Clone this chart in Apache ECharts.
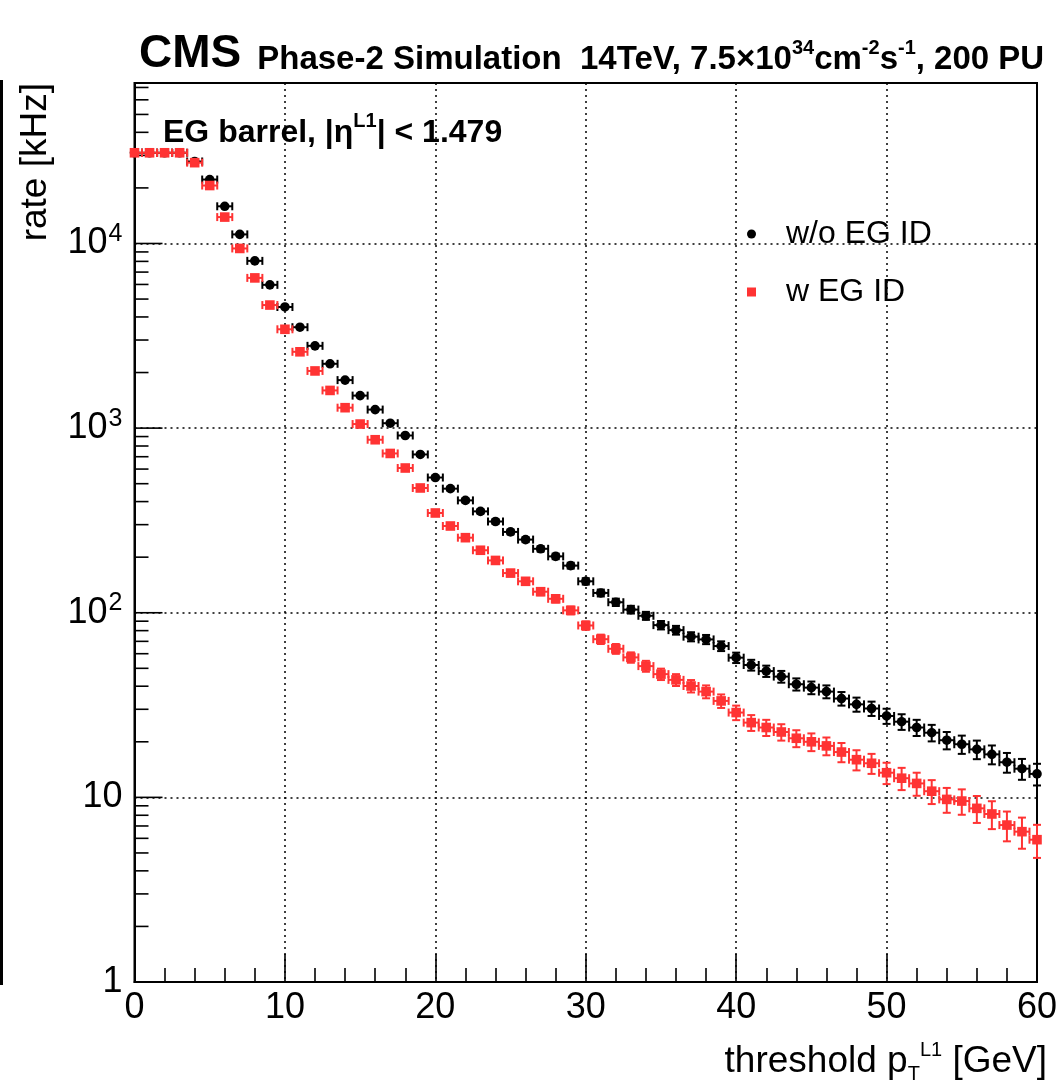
<!DOCTYPE html>
<html><head><meta charset="utf-8">
<script src="https://cdn.jsdelivr.net/npm/echarts@6/dist/echarts.min.js"></script>
<style>html,body{margin:0;padding:0;background:#fff}#c{width:1061px;height:1088px}</style>
</head><body><div id="c"></div>
<script>
// ---- data ----
const thresholds = [0,1,2,3,4,5,6,7,8,9,10,11,12,13,14,15,16,17,18,19,20,21,22,23,24,25,26,27,28,29,30,
  31,32,33,34,35,36,37,38,39,40,41,42,43,44,45,46,47,48,49,50,51,52,53,54,55,56,57,58,59,60];
const rateNoID = [31000,31000,31000,31000,27800,22200,15900,11200,8050,5970,4530,3520,2790,2230,1820,1500,1260,1063,912,720,
  540,470,406,354,312,274,249,222,202,180,148,128,114,104,96.3,85.7,80.5,74.2,71.7,66.0,
  57.1,52.1,48.3,45.1,41.0,39.3,37.4,34.3,31.9,30.3,27.6,25.7,23.9,22.4,20.4,19.4,18.2,17.1,15.5,14.3,13.4];
const errNoID = [86,86,86,86,82,73,62,52,44,38,33,29,26,23,21,19,17,16,15,13,
  11,10.6,9.9,9.2,8.7,8.1,7.7,7.3,7.0,6.6,5.9,5.5,5.2,5.0,4.8,4.5,4.4,4.2,4.1,4.0,
  3.7,3.5,3.4,3.3,3.1,3.1,3.0,2.9,2.8,2.7,2.6,2.5,2.4,2.3,2.2,2.2,2.1,2.0,1.9,1.85,1.8];
const rateID = [31000,31000,31000,31000,27400,20600,13900,9400,6510,4640,3430,2590,2040,1600,1290,1052,865,729,608,474,
  347,295,255,218,192,164,148,130,119,103,85.3,71.9,63.8,57.3,51.4,46.5,43.3,40.1,37.4,33.3,
  28.8,25.4,23.9,22.6,20.9,20.0,19.0,17.6,16.0,15.3,13.6,12.7,11.9,10.8,9.75,9.55,8.72,8.13,7.08,6.52,5.90];
const errID = [86,86,86,86,81,70,58,48,40,33,29,25,22,20,18,16,14,13,12,10.7,
  9.1,8.4,7.8,7.2,6.8,6.3,5.9,5.6,5.3,5.0,4.5,4.2,3.9,3.7,3.5,3.3,3.2,3.1,3.0,2.8,
  2.6,2.5,2.4,2.3,2.2,2.2,2.1,2.1,2.0,1.9,1.8,1.75,1.7,1.6,1.5,1.5,1.45,1.4,1.3,1.25,1.2];
const seriesNames = ['w/o EG ID', 'w EG ID'];
const binHalfWidth = 0.5;
const xMin = 0, xMax = 60, xInterval = 10;
const yMin = 1, yMax = 74000;
const yMajorTicks = [1, 10, 100, 1000, 10000];
const yMinorTicks = [2,3,4,5,6,7,8,9,20,30,40,50,60,70,80,90,200,300,400,500,600,700,800,900,
  2000,3000,4000,5000,6000,7000,8000,9000,20000,30000,40000,50000,60000,70000];

const FONT = 'Liberation Sans, Arial, Helvetica, sans-serif';
const RED = '#ff3333';

function pointRender(shape, color) {
  return function (params, api) {
    const x = api.value(0), y = api.value(1), e = api.value(2);
    const xl = Math.max(x - binHalfWidth, xMin), xr = Math.min(x + binHalfWidth, xMax);
    const pC = api.coord([x, y]);
    const pL = api.coord([xl, y]), pR = api.coord([xr, y]);
    const pT = api.coord([x, y + e]), pB = api.coord([x, Math.max(y - e, yMin)]);
    const st = {stroke: color, lineWidth: 2};
    const cap = 4;
    const ch = [
      {type: 'line', shape: {x1: pL[0], y1: pL[1], x2: pR[0], y2: pR[1]}, style: st},
      {type: 'line', shape: {x1: pT[0], y1: pT[1], x2: pB[0], y2: pB[1]}, style: st},
      {type: 'line', shape: {x1: pT[0] - cap, y1: pT[1], x2: pT[0] + cap, y2: pT[1]}, style: st},
      {type: 'line', shape: {x1: pB[0] - cap, y1: pB[1], x2: pB[0] + cap, y2: pB[1]}, style: st}
    ];
    if (x - binHalfWidth >= xMin) ch.push({type: 'line', shape: {x1: pL[0], y1: pL[1] - cap, x2: pL[0], y2: pL[1] + cap}, style: st});
    if (x + binHalfWidth <= xMax) ch.push({type: 'line', shape: {x1: pR[0], y1: pR[1] - cap, x2: pR[0], y2: pR[1] + cap}, style: st});
    if (shape === 'circle') ch.push({type: 'circle', shape: {cx: pC[0], cy: pC[1], r: 4.8}, style: {fill: color}});
    else ch.push({type: 'rect', shape: {x: pC[0] - 4.8, y: pC[1] - 4.8, width: 9.6, height: 9.6}, style: {fill: color}});
    return {type: 'group', children: ch};
  };
}
function tickRender(len) {
  return function (params, api) {
    const p = api.coord([api.value(0), api.value(1)]);
    return {type: 'line', shape: {x1: p[0], y1: p[1], x2: p[0] + len, y2: p[1]}, style: {stroke: '#000', lineWidth: 1.6}};
  };
}

const chart = echarts.init(document.getElementById('c'), null, {renderer: 'canvas'});
chart.setOption({
  backgroundColor: '#fff',
  animation: false,
  textStyle: {fontFamily: FONT},
  title: [
    {
      left: 134, top: 26,
      text: '{cms|CMS}{b|Phase-2 Simulation  14TeV, 7.5×10}{sup|34}{b|cm}{sup|-2}{b|s}{sup|-1}{b|, 200 PU}',
      textStyle: {
        fontFamily: FONT,
        rich: {
          cms: {fontSize: 46, fontWeight: 'bold', color: '#000', fontFamily: FONT, verticalAlign: 'bottom', lineHeight: 46, padding: [0, 16, 0, 0]},
          b: {fontSize: 33, fontWeight: 'bold', color: '#000', fontFamily: FONT, verticalAlign: 'bottom', lineHeight: 36, padding: [0, 0, 1, 0]},
          sup: {fontSize: 20, fontWeight: 'bold', color: '#000', fontFamily: FONT, verticalAlign: 'bottom', lineHeight: 20, padding: [0, 0, 19, 0]}
        }
      }
    },
    {
      left: 158, top: 106,
      text: '{b|EG barrel, |η}{sup|L1}{b|| < 1.479}',
      textStyle: {
        fontFamily: FONT,
        rich: {
          b: {fontSize: 32, fontWeight: 'bold', color: '#000', fontFamily: FONT, verticalAlign: 'bottom', lineHeight: 38},
          sup: {fontSize: 20, fontWeight: 'bold', color: '#000', fontFamily: FONT, verticalAlign: 'top', lineHeight: 18}
        }
      }
    }
  ],
  legend: {
    orient: 'vertical', left: 742, top: 213,
    itemWidth: 9, itemHeight: 9, itemGap: 26,
    textStyle: {fontSize: 32, color: '#000', fontFamily: FONT, padding: [0, 0, 0, 25], lineHeight: 32},
    data: [{name: seriesNames[0], icon: 'circle'}, {name: seriesNames[1], icon: 'rect'}]
  },
  graphic: [
    {type: 'rect', left: 0, top: 80, shape: {width: 3, height: 905}, style: {fill: '#000'}}
  ],
  grid: {left: 134.5, right: 24, top: 83, bottom: 106, show: true, borderColor: '#000', borderWidth: 2, backgroundColor: 'transparent'},
  xAxis: {
    type: 'value', min: xMin, max: xMax, interval: xInterval,
    name: 'threshold p{sub|T}{sup|L1} [GeV]',
    nameLocation: 'end', nameGap: 10,
    nameTextStyle: {
      fontSize: 37, color: '#000', fontFamily: FONT, align: 'right', verticalAlign: 'top', padding: [58, 0, 0, 0],
      rich: {
        sub: {fontSize: 20, color: '#000', fontFamily: FONT, verticalAlign: 'bottom', lineHeight: 44},
        sup: {fontSize: 20, color: '#000', fontFamily: FONT, verticalAlign: 'top', lineHeight: 20}
      }
    },
    axisLine: {show: true, lineStyle: {color: '#000', width: 2}},
    axisTick: {show: true, inside: true, length: 28, lineStyle: {color: '#000', width: 1.6}},
    minorTick: {show: true, splitNumber: 5, length: 14, lineStyle: {color: '#000', width: 1.6}},
    axisLabel: {fontSize: 36, color: '#000', fontFamily: FONT, margin: 8},
    splitLine: {show: true, lineStyle: {color: '#000', width: 1.5, type: [2, 4]}}
  },
  yAxis: {
    type: 'log', logBase: 10, min: yMin, max: yMax,
    name: 'rate [kHz]', nameLocation: 'end', nameGap: 0, nameRotate: 90,
    nameTextStyle: {fontSize: 37, color: '#000', fontFamily: FONT, align: 'right', verticalAlign: 'bottom', padding: [0, 0, 80, 0]},
    axisLine: {show: true, lineStyle: {color: '#000', width: 2}},
    axisTick: {show: false},
    axisLabel: {
      fontSize: 36, color: '#000', fontFamily: FONT, margin: 12,
      formatter: function (v) {
        const l = Math.log10(v), e = Math.round(l);
        if (Math.abs(l - e) > 1e-6) return '';
        if (e === 0) return '1';
        if (e === 1) return '10';
        return '{b|10}{sup|' + e + '}';
      },
      rich: {
        b: {fontSize: 36, color: '#000', fontFamily: FONT, verticalAlign: 'bottom', lineHeight: 36, padding: [0, 0, 0, 0]},
        sup: {fontSize: 25, color: '#000', fontFamily: FONT, verticalAlign: 'bottom', lineHeight: 25, padding: [0, 0, 15, 1]}
      }
    },
    splitLine: {show: true, lineStyle: {color: '#000', width: 1.5, type: [2, 4]}}
  },
  series: [
    {
      type: 'custom', name: 'yMajorTicks', silent: true, z: 5,
      renderItem: tickRender(28),
      data: yMajorTicks.map(v => [xMin, v])
    },
    {
      type: 'custom', name: 'yMinorTicks', silent: true, z: 5,
      renderItem: tickRender(14),
      data: yMinorTicks.map(v => [xMin, v])
    },
    {
      type: 'custom', name: seriesNames[0], z: 10,
      itemStyle: {color: '#000'},
      renderItem: pointRender('circle', '#000'),
      data: thresholds.map((t, i) => [t, rateNoID[i], errNoID[i]])
    },
    {
      type: 'custom', name: seriesNames[1], z: 11,
      itemStyle: {color: RED},
      renderItem: pointRender('rect', RED),
      data: thresholds.map((t, i) => [t, rateID[i], errID[i]])
    }
  ]
});
</script>
</body></html>
